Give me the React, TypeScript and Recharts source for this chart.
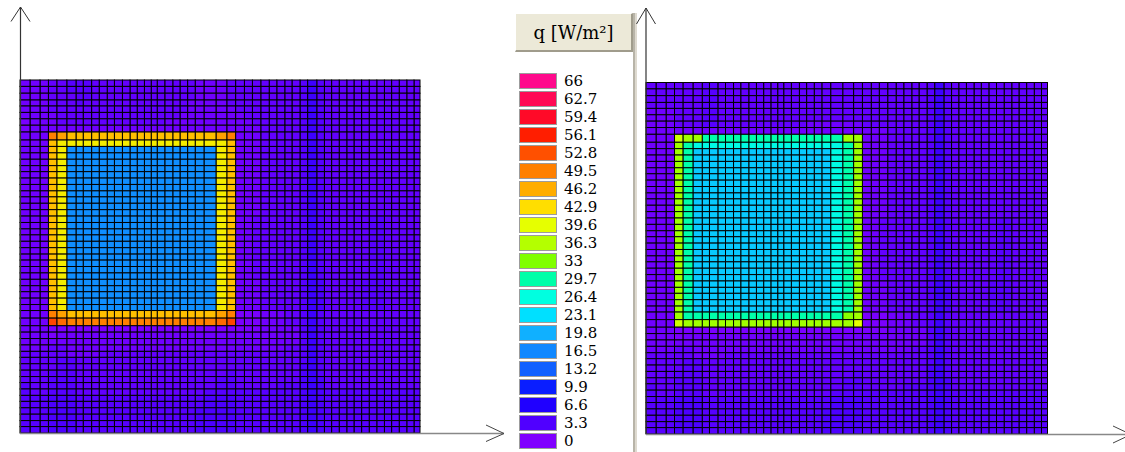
import React, { useMemo, useRef } from 'react';
import { ScatterChart, Scatter, XAxis, YAxis } from 'recharts';

// ---- legend (q in W/m²), top to bottom ----
const Q_LABELS = ['66', '62.7', '59.4', '56.1', '52.8', '49.5', '46.2', '42.9', '39.6', '36.3', '33', '29.7', '26.4', '23.1', '19.8', '16.5', '13.2', '9.9', '6.6', '3.3', '0'];
const Q_LEVELS = [66, 62.7, 59.4, 56.1, 52.8, 49.5, 46.2, 42.9, 39.6, 36.3, 33, 29.7, 26.4, 23.1, 19.8, 16.5, 13.2, 9.9, 6.6, 3.3, 0];
const Q_COLORS = ['#ff0a8c', '#ff0a55', '#ff0a28', '#ff1e00', '#ff5000', '#ff8000', '#ffad00', '#ffde00', '#e6ff00', '#b4ff00', '#80ff00', '#00ffa8', '#00ffe0', '#00e0ff', '#10b0ff', '#1088ff', '#1060ff', '#0a1eff', '#2000ff', '#5000ff', '#8000ff'];

// ---- mesh node coordinates (mm) ----
const MESH_X = [0, 25, 50, 71, 92, 117, 140, 158, 179, 198, 218, 236, 256, 275, 293, 311, 328, 343, 362, 382, 400, 419, 438, 460, 490, 517, 539, 561, 581, 602, 623, 642, 662, 680, 700, 719, 742, 761, 779, 798, 817, 835, 854, 873, 892, 911, 929, 948, 967, 985, 1000];
const MESH_Y = [0, 16, 31, 47, 63, 79, 94, 110, 126, 141, 157, 173, 189, 204, 220, 236, 252, 268, 287, 306, 321, 337, 353, 368, 384, 400, 416, 432, 447, 463, 479, 495, 510, 526, 542, 558, 574, 590, 605, 621, 637, 653, 668, 684, 700, 716, 732, 752, 769, 785, 801, 817, 832, 849, 866, 882];

// ---- cell value codes (W/m²) ----
const CELL_CODES: Record<string, number> = {
  '0': 0.4, '1': 1.1, '2': 2.0, '3': 2.8, '4': 3.6, '5': 4.6,
  B: 17, Y: 41.5, A: 45, M: 47, O: 49.5, P: 51, R: 53.5,
  S: 21.5, C: 26, G: 29.5, K: 33.5, L: 35, W: 38, X: 39.5,
};

// ---- cell values, run-length coded "code:count", rows top to bottom ----
const LEFT_ROWS = [
  '1:3 2:2 3:3 2:14 1:3 2:1 2:8 3:1 5:1 3:1 2:13',
  '1:3 2:2 3:3 2:14 1:3 2:1 2:8 3:1 5:1 3:1 2:13',
  '1:3 2:3 3:2 2:14 1:3 2:1 2:8 3:1 5:1 3:1 2:13',
  '1:3 2:3 3:1 2:14 1:4 2:1 2:8 3:1 5:1 3:1 2:13',
  '1:3 2:18 1:5 2:8 3:1 5:1 3:1 2:13',
  '1:4 2:16 1:6 1:1 2:7 3:1 5:1 3:1 2:13',
  '0:1 1:3 2:14 1:8 1:2 2:6 3:1 5:1 3:1 2:13',
  '0:1 1:25 1:3 2:5 3:1 5:1 3:1 2:13',
  '1:3 O:1 M:1 A:19 M:1 O:1 1:3 2:5 3:1 5:1 3:1 2:13',
  '1:3 A:1 Y:21 A:1 1:3 2:5 3:1 5:1 3:1 2:13',
  '1:3 A:1 Y:1 B:19 Y:1 A:1 1:3 2:5 3:1 5:1 3:1 2:13',
  '1:3 A:1 Y:1 B:19 Y:1 A:1 1:3 2:5 3:1 5:1 3:1 2:13',
  '1:3 A:1 Y:1 B:19 Y:1 A:1 1:3 2:5 3:1 5:1 3:1 2:13',
  '1:3 A:1 Y:1 B:19 Y:1 A:1 1:3 2:5 3:1 5:1 3:1 2:13',
  '1:3 A:1 Y:1 B:19 Y:1 A:1 1:3 2:5 3:1 5:1 3:1 2:13',
  '1:3 A:1 Y:1 B:19 Y:1 A:1 1:3 2:5 3:1 5:1 3:1 2:13',
  '1:3 A:1 Y:1 B:19 Y:1 A:1 1:3 2:5 3:1 5:1 3:1 2:13',
  '1:3 A:1 Y:1 B:19 Y:1 A:1 1:3 2:5 3:1 5:1 3:1 2:13',
  '1:3 A:1 Y:1 B:19 Y:1 A:1 1:3 2:5 3:1 5:1 3:1 2:13',
  '1:3 A:1 Y:1 B:19 Y:1 A:1 1:3 2:5 3:1 5:1 3:1 2:13',
  '1:3 A:1 Y:1 B:19 Y:1 A:1 1:3 2:5 3:1 5:1 3:1 2:13',
  '1:3 A:1 Y:1 B:19 Y:1 A:1 1:2 2:6 3:1 5:1 3:1 2:6 3:2 2:5',
  '1:3 A:1 Y:1 B:19 Y:1 A:1 1:2 2:6 3:1 5:1 3:1 2:6 3:2 2:5',
  '1:3 A:1 Y:1 B:19 Y:1 A:1 1:2 2:6 3:1 5:1 3:1 2:6 3:2 2:5',
  '1:3 A:1 Y:1 B:19 Y:1 A:1 1:2 2:6 3:1 5:1 3:1 2:6 3:2 2:5',
  '1:3 A:1 Y:1 B:19 Y:1 A:1 1:2 2:6 3:1 5:1 3:1 2:6 3:2 2:5',
  '1:3 A:1 Y:1 B:19 Y:1 A:1 1:2 2:6 3:1 5:1 3:1 2:6 3:2 2:5',
  '1:3 A:1 Y:1 B:19 Y:1 A:1 1:2 2:6 3:1 5:1 3:1 2:6 3:2 2:5',
  '1:3 A:1 Y:1 B:19 Y:1 A:1 1:2 2:6 3:1 5:1 3:1 2:6 3:2 2:5',
  '1:3 A:1 Y:1 B:19 Y:1 A:1 1:2 2:6 3:1 5:1 3:1 2:6 3:2 2:5',
  '1:3 A:1 Y:1 B:19 Y:1 A:1 1:2 2:6 3:1 5:1 3:1 2:6 3:2 2:5',
  '1:3 A:1 Y:1 B:19 Y:1 A:1 1:3 2:5 3:1 5:1 4:1 2:5 3:3 2:5',
  '1:3 A:1 Y:1 B:19 Y:1 A:1 1:3 2:5 3:1 5:1 4:1 2:5 3:3 2:5',
  '1:3 A:1 Y:1 B:19 Y:1 A:1 1:3 2:5 3:1 5:1 4:1 2:5 3:3 2:5',
  '1:3 A:1 Y:1 B:19 Y:1 A:1 1:3 2:5 3:1 5:1 4:1 2:5 3:3 2:5',
  '1:3 A:1 Y:1 B:19 Y:1 A:1 1:3 2:5 3:1 5:1 4:1 2:5 3:3 2:5',
  '1:3 O:1 M:1 A:19 M:1 O:1 0:3 1:3 2:2 3:1 5:1 3:1 2:13',
  '1:3 R:1 P:1 O:19 P:1 R:1 0:3 1:3 2:2 3:1 5:1 3:1 2:13',
  '1:3 0:23 0:3 1:5 3:1 5:1 3:1 2:13',
  '1:3 0:1 1:22 1:8 3:1 5:1 3:1 2:13',
  '1:26 1:8 3:1 5:1 3:1 2:13',
  '1:3 2:2 1:21 1:6 2:2 3:1 5:1 3:1 2:13',
  '2:5 1:4 2:17 2:8 3:1 5:1 3:1 2:13',
  '2:4 3:2 2:20 2:8 3:1 5:1 3:1 2:13',
  '2:4 3:2 2:20 2:8 4:1 5:1 3:1 2:13',
  '2:3 3:3 2:19 3:1 2:8 4:1 5:1 3:1 2:13',
  '2:3 3:3 2:18 3:2 2:8 4:1 5:1 4:1 2:13',
  '3:1 2:2 3:3 2:18 3:2 2:5 3:3 4:1 5:1 4:1 2:13',
  '3:1 2:2 3:3 2:17 3:3 3:8 4:1 5:1 4:1 3:13',
  '3:3 4:3 3:17 4:3 3:8 4:1 5:1 4:1 3:13',
  '3:3 4:3 3:17 4:3 3:8 4:1 5:1 4:1 3:13',
  '3:3 4:3 3:16 4:4 3:8 4:1 5:1 4:1 3:13',
  '3:3 4:3 3:16 4:4 3:8 4:1 5:1 4:1 3:13',
  '3:3 4:3 3:16 4:4 3:8 4:1 5:1 4:1 3:13',
  '3:3 4:3 3:16 4:4 3:8 4:1 5:1 4:1 3:13',
];

const RIGHT_ROWS = [
  '2:6 3:2 2:18 2:8 3:1 5:1 3:1 2:13',
  '2:6 3:2 2:18 2:8 3:1 5:1 3:1 2:13',
  '2:6 3:2 2:18 2:8 3:1 5:1 3:1 2:13',
  '2:6 3:2 2:18 2:8 3:1 5:1 3:1 2:13',
  '1:3 2:3 3:2 2:18 2:8 3:1 5:1 3:1 2:13',
  '1:3 2:3 3:2 2:18 2:8 3:1 5:1 3:1 2:13',
  '1:3 2:3 3:2 2:12 1:6 2:8 3:1 5:1 3:1 2:13',
  '1:26 1:3 2:5 3:1 5:1 3:1 2:13',
  '1:3 W:1 L:2 G:18 L:2 1:3 2:5 3:1 5:1 3:1 2:13',
  '1:3 L:1 G:1 C:19 G:1 L:1 1:3 2:5 3:1 5:1 3:1 2:13',
  '1:3 L:1 G:1 S:18 C:1 G:1 L:1 1:3 2:5 3:1 5:1 3:1 2:13',
  '1:3 L:1 G:1 S:18 C:1 G:1 L:1 1:3 2:5 3:1 5:1 3:1 2:13',
  '1:3 L:1 G:1 S:18 C:1 G:1 L:1 1:3 2:5 3:1 5:1 3:1 2:13',
  '1:3 L:1 G:1 S:18 C:1 G:1 L:1 1:3 2:5 3:1 5:1 3:1 2:13',
  '1:3 L:1 G:1 S:18 C:1 G:1 L:1 1:3 2:5 3:1 5:1 3:1 2:13',
  '1:3 L:1 G:1 S:18 C:1 G:1 L:1 1:3 2:5 3:1 5:1 3:1 2:13',
  '1:3 L:1 G:1 S:18 C:1 G:1 L:1 1:3 2:5 3:1 5:1 3:1 2:13',
  '1:3 L:1 G:1 S:18 C:1 G:1 L:1 1:3 2:5 3:1 5:1 3:1 2:13',
  '1:3 L:1 G:1 S:18 C:1 G:1 L:1 1:3 2:5 3:1 5:1 3:1 2:13',
  '1:3 L:1 G:1 S:18 C:1 G:1 L:1 1:3 2:5 3:1 5:1 3:1 2:13',
  '1:3 L:1 G:1 S:18 C:1 G:1 L:1 1:3 2:5 3:1 5:1 3:1 2:13',
  '1:3 L:1 G:1 S:18 C:1 G:1 L:1 1:2 2:6 3:1 5:1 3:1 2:6 3:2 2:5',
  '1:3 L:1 G:1 S:18 C:1 G:1 L:1 1:2 2:6 3:1 5:1 3:1 2:6 3:2 2:5',
  '1:3 L:1 G:1 S:18 C:1 G:1 L:1 1:2 2:6 3:1 5:1 3:1 2:6 3:2 2:5',
  '1:3 L:1 G:1 S:18 C:1 G:1 L:1 1:2 2:6 3:1 5:1 3:1 2:6 3:2 2:5',
  '1:3 L:1 G:1 S:18 C:1 G:1 L:1 1:2 2:6 3:1 5:1 3:1 2:6 3:2 2:5',
  '1:3 L:1 G:1 S:18 C:1 G:1 L:1 1:2 2:6 3:1 5:1 3:1 2:6 3:2 2:5',
  '1:3 L:1 G:1 S:18 C:1 G:1 L:1 1:2 2:6 3:1 5:1 3:1 2:6 3:2 2:5',
  '1:3 L:1 G:1 S:18 C:1 G:1 L:1 1:2 2:6 3:1 5:1 3:1 2:6 3:2 2:5',
  '1:3 L:1 G:1 S:18 C:1 G:1 L:1 1:2 2:6 3:1 5:1 3:1 2:6 3:2 2:5',
  '1:3 L:1 G:1 S:18 C:1 G:1 L:1 1:2 2:6 3:1 5:1 3:1 2:6 3:2 2:5',
  '1:3 L:1 G:1 S:18 C:1 G:1 L:1 1:3 2:5 3:1 5:1 4:1 2:5 3:3 2:5',
  '1:3 L:1 G:1 S:18 C:1 G:1 L:1 1:3 2:5 3:1 5:1 4:1 2:5 3:3 2:5',
  '1:3 L:1 G:1 S:18 C:1 G:1 L:1 1:3 2:5 3:1 5:1 4:1 2:5 3:3 2:5',
  '1:3 L:1 G:1 S:18 C:1 G:1 L:1 1:3 2:5 3:1 5:1 4:1 2:5 3:3 2:5',
  '1:3 L:1 G:1 S:18 C:1 G:1 L:1 1:3 2:5 3:1 5:1 4:1 2:5 3:3 2:5',
  '1:3 L:1 G:20 K:1 L:1 0:3 1:3 2:2 3:1 5:1 3:1 2:13',
  '1:3 W:1 L:21 X:1 0:3 1:3 2:2 3:1 5:1 3:1 2:13',
  '1:3 0:23 0:3 1:5 3:1 5:1 3:1 2:13',
  '1:3 0:1 1:22 1:8 3:1 5:1 3:1 2:13',
  '1:26 1:8 3:1 5:1 3:1 2:13',
  '1:3 2:2 1:21 1:6 2:2 3:1 5:1 3:1 2:13',
  '2:5 1:4 2:17 2:8 3:1 5:1 3:1 2:13',
  '2:4 3:2 2:20 2:8 3:1 5:1 3:1 2:13',
  '2:4 3:2 2:20 2:8 4:1 5:1 3:1 2:13',
  '2:3 3:3 2:19 3:1 2:8 4:1 5:1 3:1 2:13',
  '2:3 3:3 2:18 3:2 2:8 4:1 5:1 4:1 2:13',
  '3:1 2:2 3:3 2:18 3:2 2:5 3:3 4:1 5:1 4:1 2:13',
  '3:1 2:2 3:3 2:17 3:3 3:8 4:1 5:1 4:1 3:13',
  '3:3 4:3 3:17 4:3 3:8 4:1 5:1 4:1 3:13',
  '3:3 4:3 3:17 4:3 3:8 4:1 5:1 4:1 3:13',
  '3:3 4:3 3:16 4:4 3:8 4:1 5:1 4:1 3:13',
  '3:3 4:3 3:16 4:4 3:8 4:1 5:1 4:1 3:13',
  '3:3 4:3 3:16 4:4 3:8 4:1 5:1 4:1 3:13',
  '3:3 4:3 3:16 4:4 3:8 4:1 5:1 4:1 3:13',
];

// ---------- helpers ----------
const NC = MESH_X.length - 1;
const NR = MESH_Y.length - 1;

function hexToRgb(h: string) {
  const n = parseInt(h.slice(1), 16);
  return [(n >> 16) & 255, (n >> 8) & 255, n & 255];
}
const STOPS = Q_LEVELS.map((v, k) => ({ v, c: hexToRgb(Q_COLORS[k]) })).reverse();

function qColor(v: number) {
  if (v <= STOPS[0].v) return `rgb(${STOPS[0].c.join(',')})`;
  for (let k = 0; k < STOPS.length - 1; k++) {
    const a = STOPS[k], b = STOPS[k + 1];
    if (v <= b.v) {
      const t = (v - a.v) / (b.v - a.v);
      const c = a.c.map((x, m) => Math.round(x + (b.c[m] - x) * t));
      return `rgb(${c.join(',')})`;
    }
  }
  return `rgb(${STOPS[STOPS.length - 1].c.join(',')})`;
}

function decodeRows(rows: string[]): number[][] {
  return rows.map((r) => {
    const out: number[] = [];
    r.trim().split(/\s+/).forEach((tok) => {
      const [c, n] = tok.split(':');
      for (let k = 0; k < Number(n); k++) out.push(CELL_CODES[c]);
    });
    while (out.length < NC) out.push(out[out.length - 1]);
    return out.slice(0, NC);
  });
}

type Node = { x: number; y: number; i: number; j: number; v: number | null };

function buildNodes(rows: string[]): Node[] {
  const grid = decodeRows(rows); // top to bottom
  const nodes: Node[] = [];
  for (let j = NR; j >= 0; j--) {
    for (let i = NC; i >= 0; i--) {
      let v: number | null = null;
      if (i < NC && j < NR) {
        const row = grid[NR - 1 - j];
        v = row ? row[i] : null;
      }
      nodes.push({ x: MESH_X[i], y: MESH_Y[j], i, j, v });
    }
  }
  return nodes;
}

function HeatPanel({ rows, width, height, margin }: { rows: string[]; width: number; height: number; margin: any }) {
  const nodes = useMemo(() => buildNodes(rows), [rows]);
  const pix = useRef<{ x: number[]; y: number[] }>({ x: [], y: [] });
  const shape = (p: any) => {
    const pl = p.payload ?? p;
    const { i, j, v } = pl;
    const P = pix.current;
    P.x[i] = p.cx;
    P.y[j] = p.cy;
    if (v == null) return <g />;
    const x1 = P.x[i + 1];
    const yt = P.y[j + 1];
    if (x1 == null || yt == null) return <g />;
    return (
      <rect x={p.cx} y={yt} width={x1 - p.cx} height={p.cy - yt} fill={qColor(v)} stroke="#000" strokeWidth={1} />
    );
  };
  return (
    <ScatterChart width={width} height={height} margin={margin}>
      <XAxis type="number" dataKey="x" domain={[0, MESH_X[NC]]} hide />
      <YAxis type="number" dataKey="y" domain={[0, MESH_Y[NR]]} hide />
      <Scatter data={nodes} shape={shape} isAnimationActive={false} />
    </ScatterChart>
  );
}

function Legend() {
  return (
    <>
      <div
        style={{
          position: 'absolute', left: 515, top: 13, width: 118, height: 39, boxSizing: 'border-box',
          background: '#ece9d8', borderTop: '1px solid #fff', borderLeft: '1px solid #fff',
          borderRight: '2px solid #a09c8c', borderBottom: '2px solid #a09c8c',
          fontFamily: '"DejaVu Serif", serif', fontSize: 18, color: '#000',
          display: 'flex', alignItems: 'center', justifyContent: 'center', whiteSpace: 'nowrap',
        }}
      >
        q [W/m²]
      </div>
      <div style={{ position: 'absolute', left: 633, top: 13, width: 2, height: 439, background: '#b8b4a8' }} />
      <div style={{ position: 'absolute', left: 635, top: 13, width: 2, height: 439, background: '#dedad0' }} />
      {Q_LABELS.map((lab, k) => (
        <React.Fragment key={lab}>
          <div
            style={{
              position: 'absolute', left: 519, top: 72.7 + k * 18, width: 38, height: 16, boxSizing: 'border-box',
              background: Q_COLORS[k], border: '1px solid #9c9c9c',
            }}
          />
          <div
            style={{
              position: 'absolute', left: 564, top: 72.7 + k * 18, height: 16, lineHeight: '16px',
              fontFamily: '"DejaVu Serif", serif', fontSize: 15, color: '#000', whiteSpace: 'nowrap',
            }}
          >
            {lab}
          </div>
        </React.Fragment>
      ))}
    </>
  );
}

function Arrows() {
  return (
    <svg width={1125} height={452} style={{ position: 'absolute', left: 0, top: 0, pointerEvents: 'none' }}>
      {/* left panel axes */}
      <line x1={20.5} y1={7} x2={20.5} y2={433} stroke="#333" strokeWidth={1.2} />
      <polyline points="11,21.5 20.5,7 30,21.5" fill="none" stroke="#333" strokeWidth={1} />
      <line x1={20} y1={433.5} x2={504} y2={433.5} stroke="#888" strokeWidth={1.6} />
      <polyline points="486,425 504,433.5 486,441.5" fill="none" stroke="#444" strokeWidth={1} />
      {/* right panel axes */}
      <line x1={646} y1={8} x2={646} y2={434} stroke="#333" strokeWidth={1.2} />
      <polyline points="636.5,24 646,8 655.5,24" fill="none" stroke="#333" strokeWidth={1} />
      <line x1={646} y1={434.5} x2={1125} y2={434.5} stroke="#888" strokeWidth={1.6} />
      <polyline points="1113,426 1131,434.5 1113,443" fill="none" stroke="#444" strokeWidth={1} />
    </svg>
  );
}

export default function App() {
  return (
    <div style={{ position: 'absolute', left: 0, top: 0, width: 1125, height: 452, overflow: 'hidden', background: '#fff' }}>
      <div style={{ position: 'absolute', left: 0, top: 0 }}>
        <HeatPanel rows={LEFT_ROWS} width={500} height={452} margin={{ top: 80, right: 80, bottom: 19, left: 20 }} />
      </div>
      <div style={{ position: 'absolute', left: 600, top: 0 }}>
        <HeatPanel rows={RIGHT_ROWS} width={525} height={452} margin={{ top: 82.5, right: 77.5, bottom: 18, left: 46 }} />
      </div>
      <Legend />
      <Arrows />
    </div>
  );
}
